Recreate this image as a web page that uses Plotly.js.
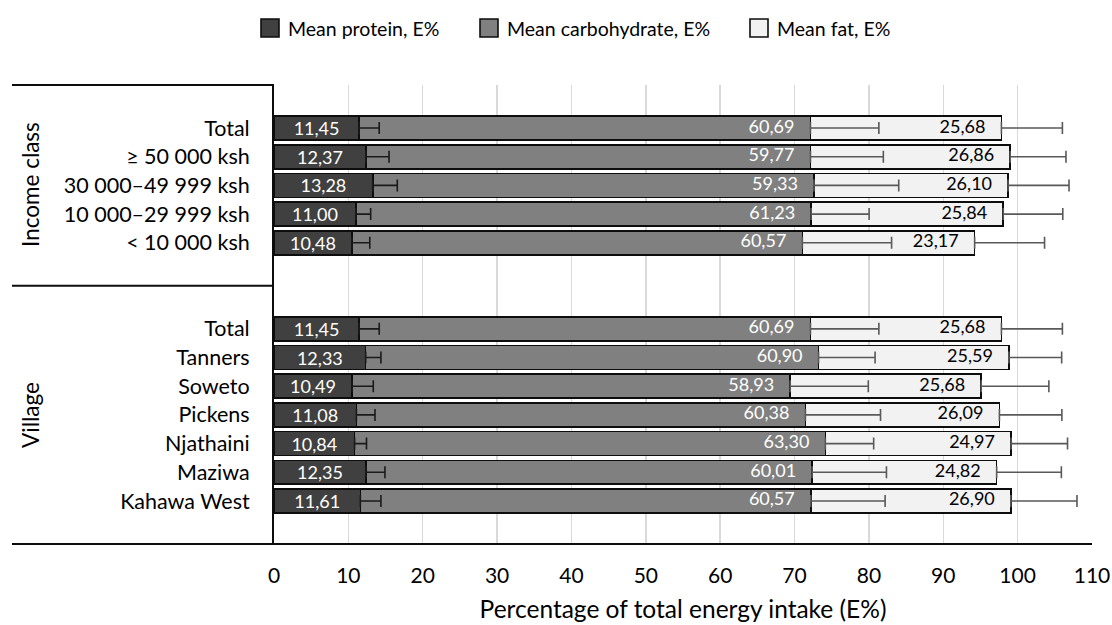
<!DOCTYPE html>
<html><head><meta charset="utf-8">
<script src="https://cdn.plot.ly/plotly-3.0.1.min.js"></script>
<style>html,body{margin:0;padding:0;background:#fff}#chart{width:1112px;height:625px}</style>
</head><body><div id="chart"></div>
<script>
// ---------- data ----------
const incomeLabels = ['Total', '≥ 50 000 ksh', '30 000–49 999 ksh', '10 000–29 999 ksh', '< 10 000 ksh'];
const incomeProtein = [11.45, 12.37, 13.28, 11.00, 10.48];
const incomeCarb = [60.69, 59.77, 59.33, 61.23, 60.57];
const incomeFat = [25.68, 26.86, 26.10, 25.84, 23.17];
const incomeProteinErr = [2.7, 3.1, 3.3, 2.0, 2.4];
const incomeCarbErr = [9.2, 9.8, 11.4, 7.8, 12.0];
const incomeFatErr = [8.2, 7.5, 8.2, 8.0, 9.4];

const villageLabels = ['Total', 'Tanners', 'Soweto', 'Pickens', 'Njathaini', 'Maziwa', 'Kahawa West'];
const villageProtein = [11.45, 12.33, 10.49, 11.08, 10.84, 12.35, 11.61];
const villageCarb = [60.69, 60.90, 58.93, 60.38, 63.30, 60.01, 60.57];
const villageFat = [25.68, 25.59, 25.68, 26.09, 24.97, 24.82, 26.90];
const villageProteinErr = [2.7, 2.05, 2.86, 2.5, 1.6, 2.57, 2.77];
const villageCarbErr = [9.2, 7.6, 10.5, 10.1, 6.5, 10.0, 10.0];
const villageFatErr = [8.2, 7.1, 9.1, 8.4, 7.6, 8.7, 8.9];

const seriesNames = ['Mean protein, E%', 'Mean carbohydrate, E%', 'Mean fat, E%'];
const groupTitles = ['Income class', 'Village'];
const xTitle = 'Percentage of total energy intake (E%)';
const xTicks = [0, 10, 20, 30, 40, 50, 60, 70, 80, 90, 100, 110];

// ---------- build ----------
const FONT = 'Lato, "Open Sans", sans-serif';
const PL = 274, PR = 1092, PT = 85, PB = 544;
const px2x = px => (px - PL) / (PR - PL);
const py2y = py => (PB - py) / (PB - PT);
const fmt = v => v.toFixed(2).replace('.', ',');

const incKeys = incomeLabels.map((l, i) => 'inc' + i);
const vilKeys = villageLabels.map((l, i) => 'vil' + i);
const keys = incKeys.concat(vilKeys);
const labels = incomeLabels.concat(villageLabels);
const protein = incomeProtein.concat(villageProtein);
const carb = incomeCarb.concat(villageCarb);
const fat = incomeFat.concat(villageFat);
const pErr = incomeProteinErr.concat(villageProteinErr);
const cErr = incomeCarbErr.concat(villageCarbErr);
const fErr = incomeFatErr.concat(villageFatErr);
const zeros = keys.map(() => 0);

const catOrder = ['pad_b'].concat(vilKeys.slice().reverse(), ['gap_b', 'gap_a'], incKeys.slice().reverse(), ['pad_t']);

const pEnd = protein;
const cEnd = protein.map((p, i) => p + carb[i]);
const fEnd = cEnd.map((c, i) => c + fat[i]);

const colors = ['#404040', '#808080', '#f2f2f2'];
const barLine = {color: '#0d0d0d', width: 1.6};

const traces = [
  {type: 'bar', orientation: 'h', name: seriesNames[0], y: keys, x: protein,
   marker: {color: colors[0], line: barLine},
   text: protein.map(fmt), textposition: 'inside', insidetextanchor: 'middle', textangle: 0,
   constraintext: 'none', textfont: {family: FONT, size: 18, color: '#ffffff'}, hoverinfo: 'x+name'},
  {type: 'bar', orientation: 'h', name: seriesNames[1], y: keys, x: carb,
   marker: {color: colors[1], line: barLine}, hoverinfo: 'x+name'},
  {type: 'bar', orientation: 'h', name: seriesNames[2], y: keys, x: fat,
   marker: {color: colors[2], line: barLine}, hoverinfo: 'x+name'},
  {type: 'scatter', mode: 'markers', y: keys, x: pEnd, showlegend: false, hoverinfo: 'skip',
   marker: {size: 24, color: 'rgba(0,0,0,0)'},
   error_x: {type: 'data', symmetric: false, array: pErr, arrayminus: zeros, color: '#1a1a1a', thickness: 1.6, width: 6}},
  {type: 'scatter', mode: 'markers+text', y: keys, x: cEnd, showlegend: false, hoverinfo: 'skip',
   marker: {size: 24, color: 'rgba(0,0,0,0)'},
   text: carb.map(fmt), textposition: 'middle left', textfont: {family: FONT, size: 18, color: '#ffffff'},
   error_x: {type: 'data', symmetric: false, array: cErr, arrayminus: zeros, color: '#595959', thickness: 1.6, width: 6}},
  {type: 'scatter', mode: 'markers+text', y: keys, x: fEnd, showlegend: false, hoverinfo: 'skip',
   marker: {size: 24, color: 'rgba(0,0,0,0)'},
   text: fat.map(fmt), textposition: 'middle left', textfont: {family: FONT, size: 18, color: '#000000'},
   error_x: {type: 'data', symmetric: false, array: fErr, arrayminus: zeros, color: '#595959', thickness: 1.6, width: 6}}
];

// custom legend
const legSq = [[261, 279], [480, 498], [750, 768]];
const legY = 28, sq = 18;
const shapes = [];
const annotations = [];
legSq.forEach((s, i) => {
  shapes.push({type: 'rect', xref: 'paper', yref: 'paper', x0: px2x(s[0]), x1: px2x(s[1]),
    y0: py2y(legY + sq / 2), y1: py2y(legY - sq / 2), fillcolor: colors[i], line: {color: '#0d0d0d', width: 1.6}});
  annotations.push({xref: 'paper', yref: 'paper', x: px2x(s[1] + 7), y: py2y(legY), xanchor: 'left', yanchor: 'middle',
    text: seriesNames[i], showarrow: false, font: {family: FONT, size: 19.5, color: '#000'}});
});
// frame lines
const lineStyle = {color: '#0d0d0d', width: 2};
shapes.push({type: 'line', xref: 'paper', yref: 'paper', x0: px2x(12), x1: 0, y0: 1, y1: 1, line: lineStyle});
shapes.push({type: 'line', xref: 'paper', yref: 'paper', x0: px2x(12), x1: 1, y0: 0, y1: 0, line: lineStyle});
shapes.push({type: 'line', xref: 'paper', yref: 'y', x0: px2x(12), x1: 0, y0: 8.5, y1: 8.5, line: lineStyle});
// group titles
annotations.push({xref: 'paper', yref: 'paper', x: px2x(30), y: py2y(185), text: groupTitles[0], textangle: -90,
  showarrow: false, xanchor: 'center', yanchor: 'middle', font: {family: FONT, size: 22.5, color: '#000'}});
annotations.push({xref: 'paper', yref: 'paper', x: px2x(30), y: py2y(415), text: groupTitles[1], textangle: -90,
  showarrow: false, xanchor: 'center', yanchor: 'middle', font: {family: FONT, size: 22.5, color: '#000'}});

const layout = {
  width: 1112, height: 625,
  margin: {l: PL, r: 1112 - PR, t: PT, b: 625 - PB},
  paper_bgcolor: '#fff', plot_bgcolor: '#fff',
  barmode: 'stack', bargap: 0.165,
  showlegend: false,
  font: {family: FONT, color: '#000'},
  xaxis: {range: [0, 110], tickvals: xTicks, ticktext: xTicks.map(String), showgrid: true,
    gridcolor: '#d9d9d9', gridwidth: 1.5, zeroline: false, showline: false, ticks: '',
    ticklabelstandoff: 17, tickfont: {family: FONT, size: 21, color: '#000'},
    title: {text: xTitle, font: {family: FONT, size: 24.5, color: '#000'}, standoff: 14}, fixedrange: true},
  yaxis: {type: 'category', categoryorder: 'array', categoryarray: catOrder, range: [-0.5, 15.5],
    tickvals: keys, ticktext: labels, showgrid: false, showline: true, linecolor: '#0d0d0d', linewidth: 2,
    ticks: '', ticklabelstandoff: 18, tickfont: {family: FONT, size: 21.5, color: '#000'}, fixedrange: true},
  shapes: shapes,
  annotations: annotations
};

Plotly.newPlot('chart', traces, layout, {displayModeBar: false, staticPlot: true});
</script>
</body></html>
